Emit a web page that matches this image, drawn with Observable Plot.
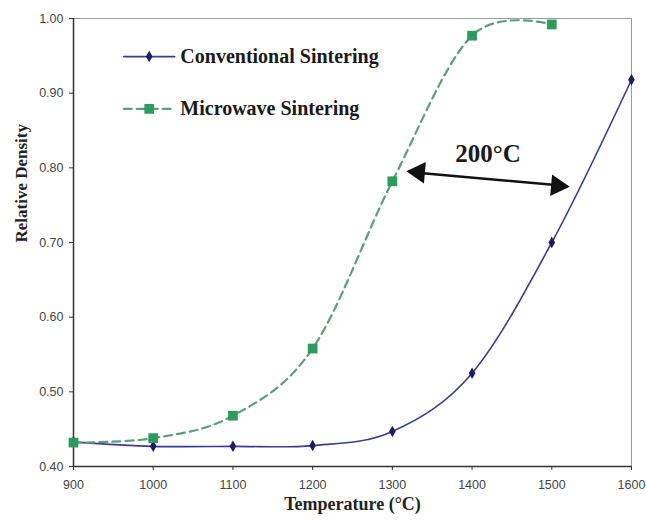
<!DOCTYPE html>
<html>
<head>
<meta charset="utf-8">
<script src="https://cdn.jsdelivr.net/npm/d3@7"></script>
<script src="https://cdn.jsdelivr.net/npm/@observablehq/plot@0.6"></script>
<style>
  html, body { margin: 0; padding: 0; background: #fff; }
  #chart { width: 646px; height: 520px; }
</style>
</head>
<body>
<div id="chart"></div>
<script>
const temperatures = [900, 1000, 1100, 1200, 1300, 1400, 1500, 1600];
const conventional = [0.433, 0.427, 0.427, 0.428, 0.447, 0.525, 0.700, 0.918];
const microwaveTemps = [900, 1000, 1100, 1200, 1300, 1400, 1500];
const microwave = [0.432, 0.438, 0.468, 0.558, 0.782, 0.977, 0.992];
const xTicks = [900, 1000, 1100, 1200, 1300, 1400, 1500, 1600];
const yTicks = [0.40, 0.50, 0.60, 0.70, 0.80, 0.90, 1.00];
const seriesNames = ["Conventional Sintering", "Microwave Sintering"];
const annotationText = "200°C";

const conv = temperatures.map((t, i) => ({x: t, y: conventional[i]}));
const micro = microwaveTemps.map((t, i) => ({x: t, y: microwave[i]}));

const convLine = "#3b3b8f", convMark = "#1c1c60";
const microLine = "#5c9e7c", microMark = "#2f9a5e";
const serif = "'Liberation Serif', 'DejaVu Serif', serif";
const sans = "'Liberation Sans', Arial, sans-serif";

// annotation geometry (data coords)
const arrowL = {x: 1323, y: 0.794}, arrowR = {x: 1517, y: 0.776};
const legendX0 = 963, legendX1 = 1027, legendXm = 995, legendTextX = 1034;
const legendY = [0.949, 0.879];

const chart = Plot.plot({
  width: 646,
  height: 520,
  marginLeft: 73,
  marginRight: 15,
  marginTop: 18,
  marginBottom: 54,
  style: {background: "#fff", overflow: "visible", fontSize: "12.5px", fontFamily: sans},
  x: {domain: [900, 1600]},
  y: {domain: [0.40, 1.00]},
  marks: [
    Plot.frame({stroke: "#9a9a9a", strokeWidth: 1}),
    Plot.ruleX([900], {stroke: "#333", strokeWidth: 1.5}),
    Plot.ruleY([0.40], {stroke: "#333", strokeWidth: 1.5}),
    Plot.axisX({ticks: xTicks, tickFormat: d => String(d), tickSize: 4, tickPadding: 10, label: null,
      fontFamily: sans, fontSize: 12.5, color: "#444", stroke: "#333"}),
    Plot.axisY({ticks: yTicks, tickFormat: d => d.toFixed(2), tickSize: 4, tickPadding: 6, label: null,
      fontFamily: sans, fontSize: 12.5, color: "#444", stroke: "#333"}),
    Plot.text([annotationText], {frameAnchor: "bottom", dy: 43, text: () => "Temperature (°C)",
      fontFamily: serif, fontWeight: "bold", fontSize: 18, fill: "#222"}),
    Plot.text([annotationText], {frameAnchor: "left", dx: -52, rotate: -90, text: () => "Relative Density",
      fontFamily: serif, fontWeight: "bold", fontSize: 17, fill: "#222"}),
    // series
    Plot.line(conv, {x: "x", y: "y", curve: "cardinal", tension: 0, stroke: convLine, strokeWidth: 1.6}),
    Plot.line(micro, {x: "x", y: "y", curve: "cardinal", tension: 0, stroke: microLine, strokeWidth: 2.2, strokeDasharray: "8,5", clip: true}),
    Plot.dot(conv, {x: "x", y: "y", symbol: "diamond", r: 3.5, fill: convMark, stroke: "none"}),
    Plot.dot(micro, {x: "x", y: "y", symbol: "square", r: 5.5, fill: microMark, stroke: "none"}),
    // legend
    Plot.line([{x: legendX0, y: legendY[0]}, {x: legendX1, y: legendY[0]}], {x: "x", y: "y", stroke: convLine, strokeWidth: 1.6}),
    Plot.dot([{x: legendXm, y: legendY[0]}], {x: "x", y: "y", symbol: "diamond", r: 3.5, fill: convMark}),
    Plot.line([{x: legendX0, y: legendY[1]}, {x: legendX1, y: legendY[1]}], {x: "x", y: "y", stroke: microLine, strokeWidth: 2.2, strokeDasharray: "8,5"}),
    Plot.dot([{x: legendXm, y: legendY[1]}], {x: "x", y: "y", symbol: "square", r: 5.5, fill: microMark}),
    Plot.text(seriesNames, {x: () => legendTextX, y: (d, i) => legendY[i], text: d => d, textAnchor: "start",
      fontFamily: serif, fontWeight: "bold", fontSize: 20, fill: "#1a1a1a"}),
    // annotation arrow
    Plot.link([{x1: arrowL.x + 12, y1: arrowL.y - 0.001, x2: arrowR.x - 12, y2: arrowR.y + 0.001}],
      {x1: "x1", y1: "y1", x2: "x2", y2: "y2", stroke: "#111", strokeWidth: 2.5}),
    Plot.dot([arrowL], {x: "x", y: "y", symbol: "triangle", r: 8, rotate: -85, fill: "#111", dx: 8}),
    Plot.dot([arrowR], {x: "x", y: "y", symbol: "triangle", r: 8, rotate: 95, fill: "#111", dx: -8}),
    Plot.text([annotationText], {x: () => 1420, y: () => 0.818, text: d => d,
      fontFamily: serif, fontWeight: "bold", fontSize: 25, fill: "#1a1a1a"})
  ]
});
document.getElementById("chart").appendChild(chart);
</script>
</body>
</html>
